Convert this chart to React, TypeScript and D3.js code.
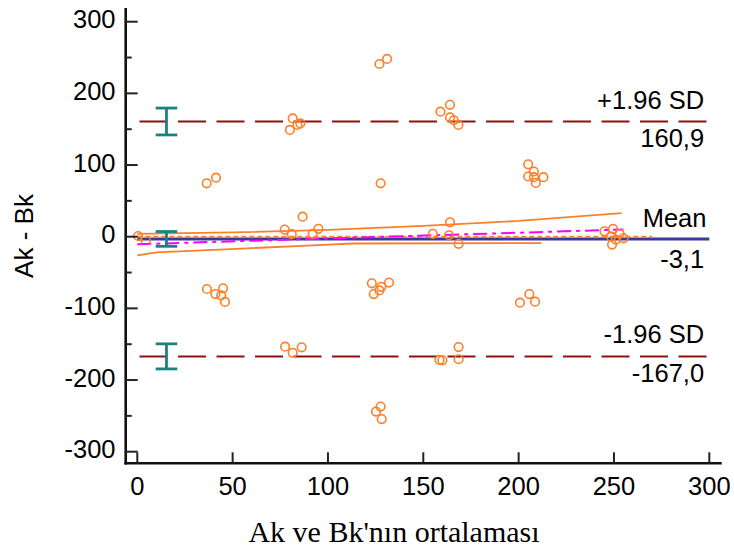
import React from "react";
import * as d3 from "d3";

// ---- data ----
const xTicks = [0, 50, 100, 150, 200, 250, 300];
const yTicks = [-300, -200, -100, 0, 100, 200, 300];
const yMinorTicks = [-250, -150, -50, 50, 150, 250];

const meanValues = [
  0.4,
  36.4, 41.3,
  36.5, 41, 45, 44, 46,
  81.5, 85.5, 80, 84,
  77.5, 81.5, 86.2,
  86.7, 77.3, 81, 95, 92,
  127, 131,
  127.6,
  123, 128, 132, 124, 127,
  125.2, 127.6, 128.2,
  159, 164, 164, 168.4, 166,
  158.5, 160, 168.5, 168.5,
  164, 168.5, 155, 163.5,
  205, 208, 205, 208, 209, 213,
  200.7, 205.6, 208.6,
  245, 249.5, 253, 248.5, 249, 255, 251,
];
const diffValues = [
  1,
  74.5, 82.3,
  -73, -80, -72, -82, -91,
  165, 158, 149, 156,
  -153.5, -162, -154.3,
  28, 10, 3.5, 11, 4,
  241, 248,
  74.5,
  -65, -70, -64, -80, -75,
  -244, -237, -254.5,
  174.5, 184, 166.5, 156, 162.5,
  -172, -172.5, -171, -154,
  20, -10, 4, 2,
  101, 91, 84, 83, 75, 83,
  -92, -80, -90.7,
  7.5, 11, 4, 0, -11, -2.2, -4,
];

const meanDiff = -3.1;
const upperLoA = 160.9;
const lowerLoA = -167.0;
const meanLabel = "-3,1";
const upperLabel = "160,9";
const lowerLabel = "-167,0";

const ciBarX = 15.3;
const ciMean = [-13.4, 7.2];
const ciUpper = [142, 179.5];
const ciLower = [-184.5, -149.5];

const regX = [0, 255];
const regY = [-10.5, 10];
const regUpperX = [0, 50, 100, 150, 200, 254];
const regUpperY = [4, 6, 9.5, 15, 22, 33];
const regLowerX = [0, 10, 55, 92, 113, 212];
const regLowerY = [-26, -22, -16.5, -12, -9.5, -9];
const equalityX = [0, 270];

const smallBarX = [2.3, 6.6];
const smallBarY = [0, -10];

// ---- layout ----
const W = 734;
const H = 553;
const xScale = d3.scaleLinear().domain([0, 300]).range([137.3, 709.3]);
const yScale = d3.scaleLinear().domain([-300, 300]).range([451.7, 21.7]);
const xAxisY = 463.3;
const yAxisX = 125.7;
const axisTop = yScale(319);
const axisRight = xScale(306.5);

const ORANGE = "#FF7F27";
const DARKRED = "#8E1111";
const NAVY = "#3A3A98";
const TEAL = "#1B8282";
const MAGENTA = "#FF00FF";
const sans = "'Liberation Sans', Arial, sans-serif";
const serif = "'Liberation Serif', 'Times New Roman', serif";

function ErrorBar({ lo, hi }: { lo: number; hi: number }) {
  const cx = xScale(ciBarX);
  const hw = 10.8;
  return (
    <g stroke={TEAL} strokeWidth={2.8} fill="none">
      <line x1={cx} x2={cx} y1={yScale(lo)} y2={yScale(hi)} />
      <line x1={cx - hw} x2={cx + hw} y1={yScale(lo)} y2={yScale(lo)} />
      <line x1={cx - hw} x2={cx + hw} y1={yScale(hi)} y2={yScale(hi)} />
    </g>
  );
}

export default function App() {
  const line = d3
    .line<[number, number]>()
    .x((d) => xScale(d[0]))
    .y((d) => yScale(d[1]));
  const upperPts = regUpperX.map((x, i) => [x, regUpperY[i]] as [number, number]);
  const lowerPts = regLowerX.map((x, i) => [x, regLowerY[i]] as [number, number]);
  const regPts = regX.map((x, i) => [x, regY[i]] as [number, number]);
  const labelX = xScale(297.3);
  const fs = 25.5;

  return (
    <svg
      width={W}
      height={H}
      style={{ position: "fixed", left: 0, top: 0, background: "#fff" }}
    >
      <rect width={W} height={H} fill="#fff" />

      {/* limits of agreement */}
      {[upperLoA, lowerLoA].map((v, i) => (
        <line
          key={i}
          x1={xScale(0)}
          x2={xScale(300)}
          y1={yScale(v)}
          y2={yScale(v)}
          stroke={DARKRED}
          strokeWidth={2}
          strokeDasharray="28 10.5"
          strokeDashoffset={36.3}
        />
      ))}

      {/* regression CI lines */}
      <path d={line(upperPts) || ""} fill="none" stroke={ORANGE} strokeWidth={1.8} />
      <path d={line(lowerPts) || ""} fill="none" stroke={ORANGE} strokeWidth={1.8} />

      {/* mean line */}
      <line
        x1={xScale(0)}
        x2={xScale(300)}
        y1={yScale(meanDiff)}
        y2={yScale(meanDiff)}
        stroke={NAVY}
        strokeWidth={3}
      />

      {/* line of equality */}
      <line
        x1={xScale(equalityX[0])}
        x2={xScale(equalityX[1])}
        y1={yScale(0)}
        y2={yScale(0)}
        stroke={ORANGE}
        strokeWidth={2}
        strokeDasharray="5 3"
      />

      {/* regression line */}
      <path
        d={line(regPts) || ""}
        fill="none"
        stroke={MAGENTA}
        strokeWidth={2}
        strokeDasharray="14 5 4 5"
      />

      {/* small orange bar */}
      <g stroke={ORANGE} strokeWidth={1.6} fill="none">
        <line x1={xScale(smallBarX[0])} x2={xScale(smallBarX[0])} y1={yScale(smallBarY[0])} y2={yScale(smallBarY[1])} />
        <line x1={xScale(smallBarX[1])} x2={xScale(smallBarX[1])} y1={yScale(smallBarY[0])} y2={yScale(smallBarY[1])} />
      </g>

      {/* CI error bars */}
      <ErrorBar lo={ciUpper[0]} hi={ciUpper[1]} />
      <ErrorBar lo={ciMean[0]} hi={ciMean[1]} />
      <ErrorBar lo={ciLower[0]} hi={ciLower[1]} />

      {/* points */}
      <g fill="none" stroke={ORANGE} strokeWidth={1.6}>
        {meanValues.map((m, i) => (
          <circle key={i} cx={xScale(m)} cy={yScale(diffValues[i])} r={4.3} />
        ))}
      </g>

      {/* axes */}
      <g stroke="#111" strokeWidth={2.6} fill="none">
        <line x1={yAxisX} x2={yAxisX} y1={axisTop} y2={xAxisY + 1.3} />
        <line x1={yAxisX - 1.3} x2={axisRight} y1={xAxisY} y2={xAxisY} />
      </g>
      <g stroke="#222" strokeWidth={2}>
        {yTicks.map((t) => (
          <line key={t} x1={yAxisX} x2={yAxisX + 12} y1={yScale(t)} y2={yScale(t)} />
        ))}
        {yMinorTicks.map((t) => (
          <line key={t} x1={yAxisX} x2={yAxisX + 6} y1={yScale(t)} y2={yScale(t)} />
        ))}
        {xTicks.map((t) => (
          <line key={t} x1={xScale(t)} x2={xScale(t)} y1={xAxisY} y2={xAxisY - 11} />
        ))}
      </g>
      <g fontFamily={sans} fontSize={fs} fill="#000">
        {yTicks.map((t) => (
          <text key={t} x={115.5} y={yScale(t) + 6.6} textAnchor="end">
            {t}
          </text>
        ))}
        {xTicks.map((t) => (
          <text key={t} x={xScale(t)} y={495.3} textAnchor="middle">
            {t}
          </text>
        ))}
      </g>

      {/* reference line labels */}
      <g fontFamily={sans} fontSize={fs} fill="#000" textAnchor="end">
        <text x={labelX} y={yScale(upperLoA) - 12}>+1.96 SD</text>
        <text x={labelX} y={yScale(upperLoA) + 26}>{upperLabel}</text>
        <text x={xScale(298.5)} y={yScale(meanDiff) - 12.2}>Mean</text>
        <text x={labelX} y={yScale(meanDiff) + 29}>{meanLabel}</text>
        <text x={labelX} y={yScale(lowerLoA) - 13}>-1.96 SD</text>
        <text x={labelX} y={yScale(lowerLoA) + 25.3}>{lowerLabel}</text>
      </g>

      {/* axis titles */}
      <text
        transform={`translate(33,236) rotate(-90)`}
        textAnchor="middle"
        fontFamily={sans}
        fontSize={26}
        fill="#000"
      >
        Ak - Bk
      </text>
      <text
        x={394}
        y={542}
        textAnchor="middle"
        fontFamily={serif}
        fontSize={30}
        fill="#000"
      >
        Ak ve Bk'nın ortalaması
      </text>
    </svg>
  );
}
